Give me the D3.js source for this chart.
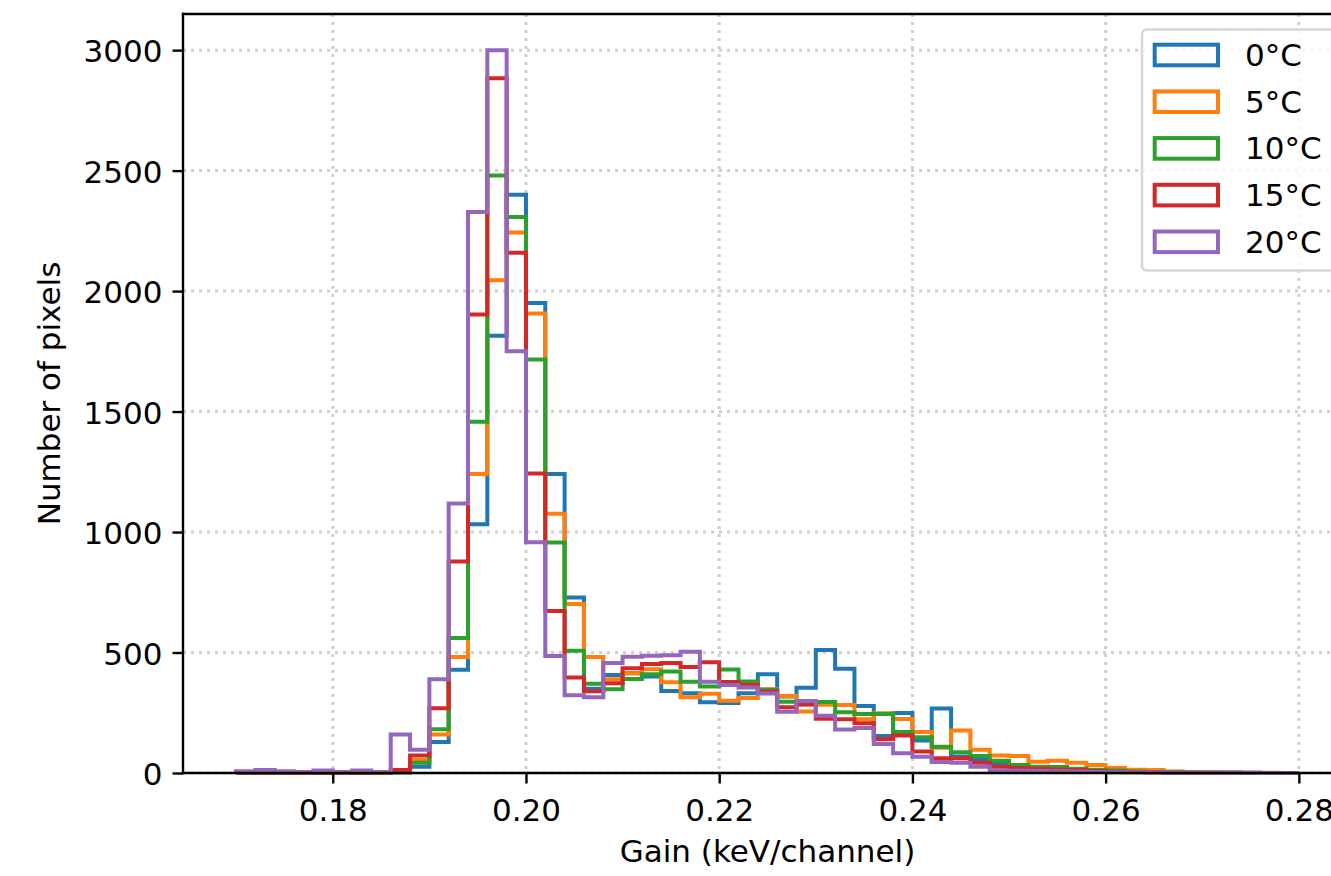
<!DOCTYPE html>
<html>
<head>
<meta charset="utf-8">
<script src="https://cdn.jsdelivr.net/npm/d3@7"></script>
<style>
  html, body { margin: 0; padding: 0; background: #fff; }
  svg { display: block; font-family: "DejaVu Sans", sans-serif; }
</style>
</head>
<body>
<svg id="chart" width="1331" height="876"></svg>
<script>
// ---- data ----
const binStart = 0.17;
const binWidth = 0.002;
const nBins = 55;
const seriesNames = ["0°C", "5°C", "10°C", "15°C", "20°C"];
const seriesColors = ["#1f77b4", "#ff7f0e", "#2ca02c", "#d62728", "#9467bd"];

const counts0C = [2,3,2,1,3,2,3,2,5,26,129,428,1032,1815,2400,1951,1241,728,350,407,414,400,340,331,294,290,331,410,318,354,510,433,278,154,249,135,268,68,55,42,28,20,14,10,7,5,4,3,2,2,1,1,1,0,0];
const counts5C = [1,2,1,1,2,1,2,1,3,54,160,481,1241,2045,2243,1907,1076,701,481,389,414,431,377,314,329,300,311,348,320,255,283,282,223,248,224,170,105,176,96,73,71,47,51,43,33,21,14,12,6,4,3,2,1,1,0];
const counts10C = [1,1,1,1,1,1,1,1,2,43,182,560,1458,2480,2307,1716,957,507,370,348,390,410,421,379,359,430,380,346,296,285,295,252,245,245,170,148,109,86,71,51,33,26,25,18,14,10,6,4,3,2,1,1,0,0,0];
const counts15C = [1,1,1,1,1,1,1,1,12,73,269,878,1903,2883,2159,1243,672,396,339,372,435,452,457,440,460,378,366,338,273,284,225,223,206,140,156,89,61,61,43,26,21,18,15,12,8,5,4,3,2,1,1,1,0,0,0];
const counts20C = [7,12,7,4,10,4,10,4,160,96,389,1118,2328,3000,1750,958,486,323,314,457,482,487,489,503,379,365,355,330,254,299,238,181,187,120,82,67,46,43,26,10,9,8,7,5,4,3,2,2,1,1,1,1,1,0,0];
const allCounts = [counts0C, counts5C, counts10C, counts15C, counts20C];

const xTicks = [0.18, 0.20, 0.22, 0.24, 0.26, 0.28];
const yTicks = [0, 500, 1000, 1500, 2000, 2500, 3000];

(function () {
// ---- layout ----
const svg = d3.select("#chart");
const pL = 183, pR = 1352, pT = 14, pB = 773;
const fontSize = 31;

const edges = d3.range(nBins + 1).map(i => binStart + i * binWidth);
const x = d3.scaleLinear().domain([0.1645, 0.2855]).range([pL, pR]);
const ymax = 3000 * 1.05;
const y = d3.scaleLinear().domain([0, ymax]).range([pB, pT]);

// grid
const grid = svg.append("g");
grid.selectAll("line.gx").data(xTicks).join("line")
  .attr("x1", d => x(d)).attr("x2", d => x(d))
  .attr("y1", pT).attr("y2", pB)
  .attr("stroke", "#cfcfcf").attr("stroke-width", 3)
  .attr("stroke-dasharray", "3 5");
grid.selectAll("line.gy").data(yTicks).join("line")
  .attr("x1", pL).attr("x2", pR)
  .attr("y1", d => y(d)).attr("y2", d => y(d))
  .attr("stroke", "#cfcfcf").attr("stroke-width", 3)
  .attr("stroke-dasharray", "3 5");

// step histograms
const line = d3.line().x(d => x(d[0])).y(d => y(d[1]));
allCounts.forEach((c, k) => {
  const pts = [[edges[0], 0]];
  c.forEach((v, i) => { pts.push([edges[i], v]); pts.push([edges[i + 1], v]); });
  pts.push([edges[nBins], 0]);
  svg.append("path")
    .attr("d", line(pts))
    .attr("fill", "none")
    .attr("stroke", seriesColors[k])
    .attr("stroke-width", 4)
    .attr("stroke-linejoin", "miter")
    .attr("stroke-linecap", "butt");
});

// axes
const xAxis = d3.axisBottom(x).tickValues(xTicks).tickFormat(d3.format(".2f"))
  .tickSizeInner(10.5).tickSizeOuter(0).tickPadding(8);
const gx = svg.append("g").attr("transform", `translate(0,${pB})`).call(xAxis);
const yAxis = d3.axisLeft(y).tickValues(yTicks).tickFormat(d3.format("d"))
  .tickSizeInner(10.5).tickSizeOuter(0).tickPadding(10);
const gy = svg.append("g").attr("transform", `translate(${pL},0)`).call(yAxis);

[gx, gy].forEach(g => {
  g.select(".domain").remove();
  g.selectAll(".tick line").attr("stroke", "#000").attr("stroke-width", 2.4);
  g.selectAll(".tick text").attr("fill", "#000")
    .style("font-family", "DejaVu Sans").style("font-size", fontSize + "px");
});
gx.selectAll(".tick text").attr("dy", null).attr("y", 48);
gy.selectAll(".tick text").attr("dy", null).attr("y", 11.5);

// spines
const spine = (x1, y1, x2, y2) => svg.append("line")
  .attr("x1", x1).attr("y1", y1).attr("x2", x2).attr("y2", y2)
  .attr("stroke", "#000").attr("stroke-width", 2.4).attr("stroke-linecap", "square");
spine(pL, pT, pL, pB);
spine(pL, pB, pR, pB);
spine(pL, pT, pR, pT);
spine(pR, pT, pR, pB);

// axis labels
svg.append("text").attr("x", (pL + pR) / 2).attr("y", 862)
  .attr("text-anchor", "middle").style("font-size", fontSize + "px")
  .text("Gain (keV/channel)");
svg.append("text").attr("transform", `translate(60,${(pT + pB) / 2}) rotate(-90)`)
  .attr("text-anchor", "middle").style("font-size", fontSize + "px")
  .text("Number of pixels");

// legend
const lg = svg.append("g");
lg.append("rect").attr("x", 1142).attr("y", 29.5).attr("width", 260).attr("height", 241)
  .attr("rx", 5).attr("fill", "#fff").attr("fill-opacity", 0.8)
  .attr("stroke", "#d6d6d6").attr("stroke-width", 2.4);
seriesNames.forEach((name, k) => {
  const cy = 55 + 46.7 * k;
  lg.append("rect").attr("x", 1154.7).attr("y", cy - 10.3).attr("width", 63.3).attr("height", 20.6)
    .attr("fill", "none").attr("stroke", seriesColors[k]).attr("stroke-width", 4);
  lg.append("text").attr("x", 1245).attr("y", cy + 11)
    .style("font-size", fontSize + "px").text(name);
});
})();
</script>
</body>
</html>
